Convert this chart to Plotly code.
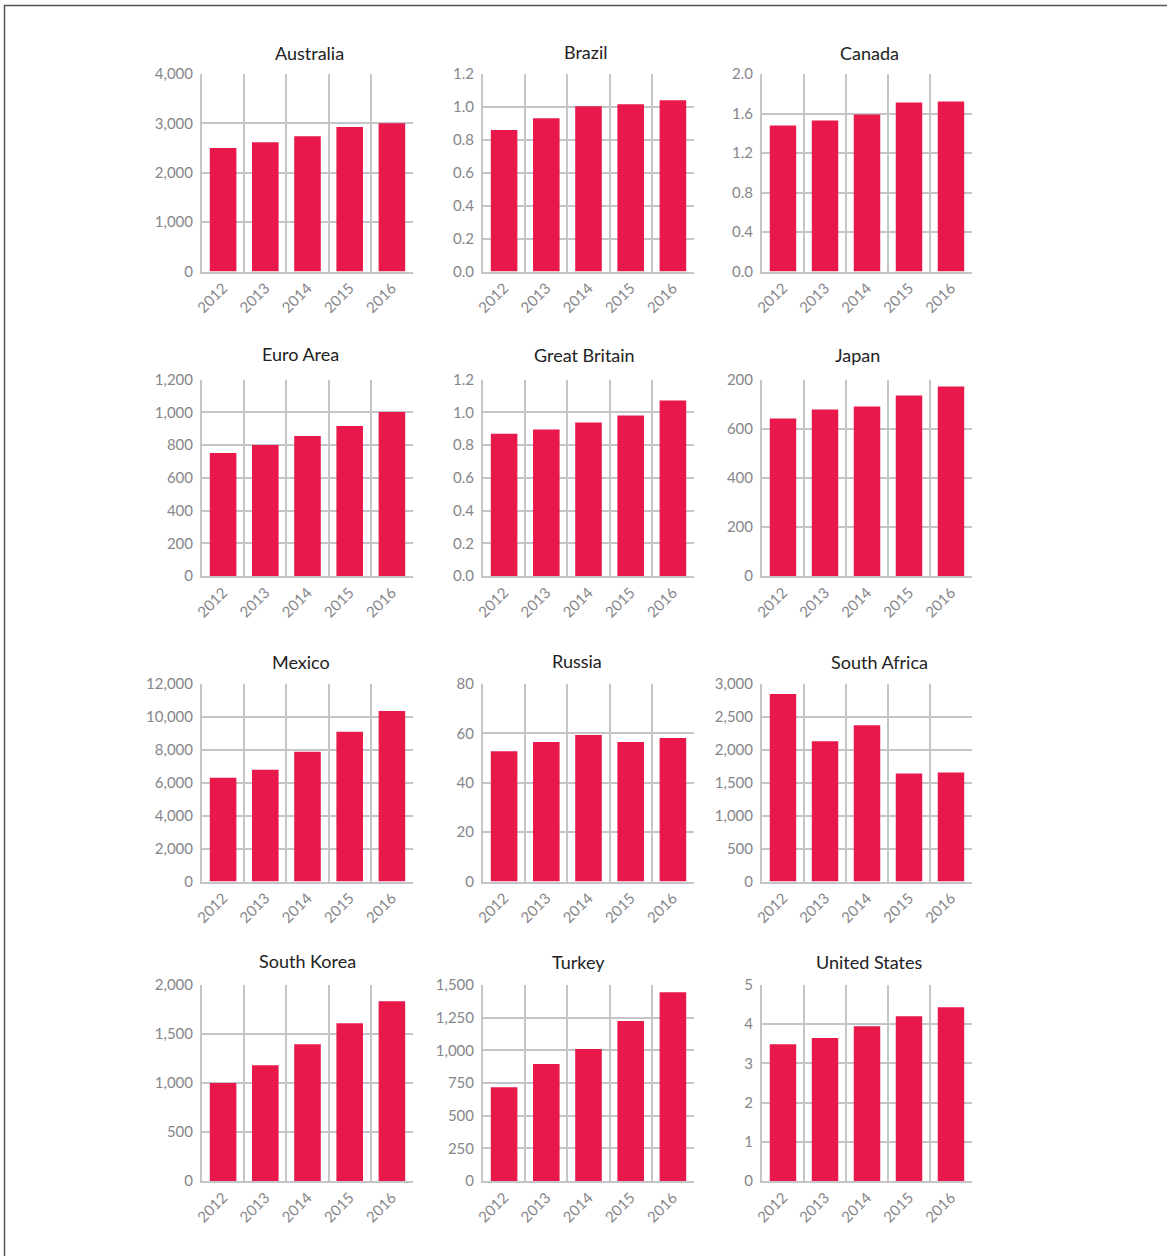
import plotly.graph_objects as go

W, H = 1167, 1256

years = [2012, 2013, 2014, 2015, 2016]
year_labels = ["2012", "2013", "2014", "2015", "2016"]

countries = ["Australia", "Brazil", "Canada",
             "Euro Area", "Great Britain", "Japan",
             "Mexico", "Russia", "South Africa",
             "South Korea", "Turkey", "United States"]

australia = [2500, 2620, 2740, 2925, 3005]
brazil = [0.859, 0.931, 1.004, 1.016, 1.040]
canada = [1.478, 1.529, 1.590, 1.711, 1.722]
euro_area = [751, 800, 855, 916, 1002]
great_britain = [0.869, 0.894, 0.937, 0.980, 1.071]
japan = [641, 678, 690, 735, 772]
mexico = [6310, 6794, 7883, 9093, 10363]
russia = [52.8, 56.5, 59.3, 56.5, 58.1]
south_africa = [2847, 2129, 2374, 1640, 1655]
south_korea = [1000, 1180, 1395, 1610, 1835]
turkey = [718, 895, 1010, 1225, 1445]
united_states = [3.49, 3.65, 3.95, 4.20, 4.43]

series = [australia, brazil, canada, euro_area, great_britain, japan,
          mexico, russia, south_africa, south_korea, turkey, united_states]

# y tick values and labels for each panel
ytick_vals = [
    [0, 1000, 2000, 3000, 4000],
    [0, 0.2, 0.4, 0.6, 0.8, 1.0, 1.2],
    [0, 0.4, 0.8, 1.2, 1.6, 2.0],
    [0, 200, 400, 600, 800, 1000, 1200],
    [0, 0.2, 0.4, 0.6, 0.8, 1.0, 1.2],
    [0, 200, 400, 600, 800],
    [0, 2000, 4000, 6000, 8000, 10000, 12000],
    [0, 20, 40, 60, 80],
    [0, 500, 1000, 1500, 2000, 2500, 3000],
    [0, 500, 1000, 1500, 2000],
    [0, 250, 500, 750, 1000, 1250, 1500],
    [0, 1, 2, 3, 4, 5],
]
ytick_text = [
    ["0", "1,000", "2,000", "3,000", "4,000"],
    ["0.0", "0.2", "0.4", "0.6", "0.8", "1.0", "1.2"],
    ["0.0", "0.4", "0.8", "1.2", "1.6", "2.0"],
    ["0", "200", "400", "600", "800", "1,000", "1,200"],
    ["0.0", "0.2", "0.4", "0.6", "0.8", "1.0", "1.2"],
    ["0", "200", "400", "600", "200"],
    ["0", "2,000", "4,000", "6,000", "8,000", "10,000", "12,000"],
    ["0", "20", "40", "60", "80"],
    ["0", "500", "1,000", "1,500", "2,000", "2,500", "3,000"],
    ["0", "500", "1,000", "1,500", "2,000"],
    ["0", "250", "500", "750", "1,000", "1,250", "1,500"],
    ["0", "1", "2", "3", "4", "5"],
]

# layout (pixel geometry)
col_px = [(202, 413), (483, 694), (762, 972)]
row_px = [(74, 271.5), (379.5, 576), (684, 881.5), (985, 1181)]
title_px = [(309, 53), (586, 52), (869, 53),
            (300, 354), (584, 355), (857, 355),
            (301, 662), (577, 661), (879, 662),
            (307, 961), (578, 962), (869, 962)]

BAR = "#E8194A"
GRID = "#C5C5C9"
TICK = "#86868A"
TITLE = "#222222"
FONT = "Lato, Noto Sans, sans-serif"

fig = go.Figure()
layout = dict(
    width=W, height=H,
    autosize=False,
    margin=dict(l=0, r=0, t=0, b=0, pad=0, autoexpand=False),
    paper_bgcolor="white", plot_bgcolor="white",
    showlegend=False,
    font=dict(family=FONT, color=TICK),
)
annotations = []

for i, (name, vals) in enumerate(zip(countries, series)):
    r, c = divmod(i, 3)
    k = "" if i == 0 else str(i + 1)
    x0, x1 = col_px[c]
    yt, yb = row_px[r]
    fig.add_trace(go.Bar(
        x=years, y=vals, marker=dict(color=BAR, line=dict(width=0)),
        width=0.63, xaxis="x" + k, yaxis="y" + k, hoverinfo="x+y",
    ))
    tv = ytick_vals[i]
    layout["xaxis" + k] = dict(
        domain=[x0 / W, x1 / W], anchor="y" + k,
        range=[2011.5, 2016.5], automargin=False,
        tickmode="array", tickvals=years, ticktext=year_labels,
        tickangle=-45, tickfont=dict(size=15, color=TICK, family=FONT),
        showgrid=False, zeroline=False,
        showline=True, linecolor=GRID, linewidth=2,
        ticks="",
        minor=dict(tickmode="array", tickvals=[y - 0.5 for y in years],
                   showgrid=True, gridcolor=GRID, gridwidth=1.5, ticks=""),
        fixedrange=True,
    )
    layout["yaxis" + k] = dict(
        domain=[1 - yb / H, 1 - yt / H], anchor="x" + k,
        range=[0, tv[-1]], automargin=False,
        tickmode="array", tickvals=tv, ticktext=ytick_text[i],
        tickfont=dict(size=15, color=TICK, family=FONT),
        showgrid=False, zeroline=False,
        showline=True, linecolor=GRID, linewidth=2,
        ticks="", ticklabelstandoff=4,
        minor=dict(tickmode="array", tickvals=tv[1:-1],
                   showgrid=True, gridcolor=GRID, gridwidth=1.5, ticks=""),
        fixedrange=True,
    )
    tx, ty = title_px[i]
    annotations.append(dict(
        text=name, x=tx / W, y=1 - ty / H, xref="paper", yref="paper",
        xanchor="center", yanchor="middle", showarrow=False,
        font=dict(size=18, color=TITLE, family=FONT),
    ))

layout["annotations"] = annotations
layout["shapes"] = [
    dict(type="line", xref="paper", yref="paper",
         x0=4 / W, x1=1.0, y0=1 - 5.5 / H, y1=1 - 5.5 / H,
         line=dict(color="#555555", width=1.5)),
    dict(type="line", xref="paper", yref="paper",
         x0=4.5 / W, x1=4.5 / W, y0=1 - 5 / H, y1=0,
         line=dict(color="#555555", width=1.5)),
]
fig.update_layout(**layout)
fig.write_html(
    "out.html",
    config={"displayModeBar": False},
    post_script="document.body.style.margin='0';document.body.style.overflow='hidden';",
)
